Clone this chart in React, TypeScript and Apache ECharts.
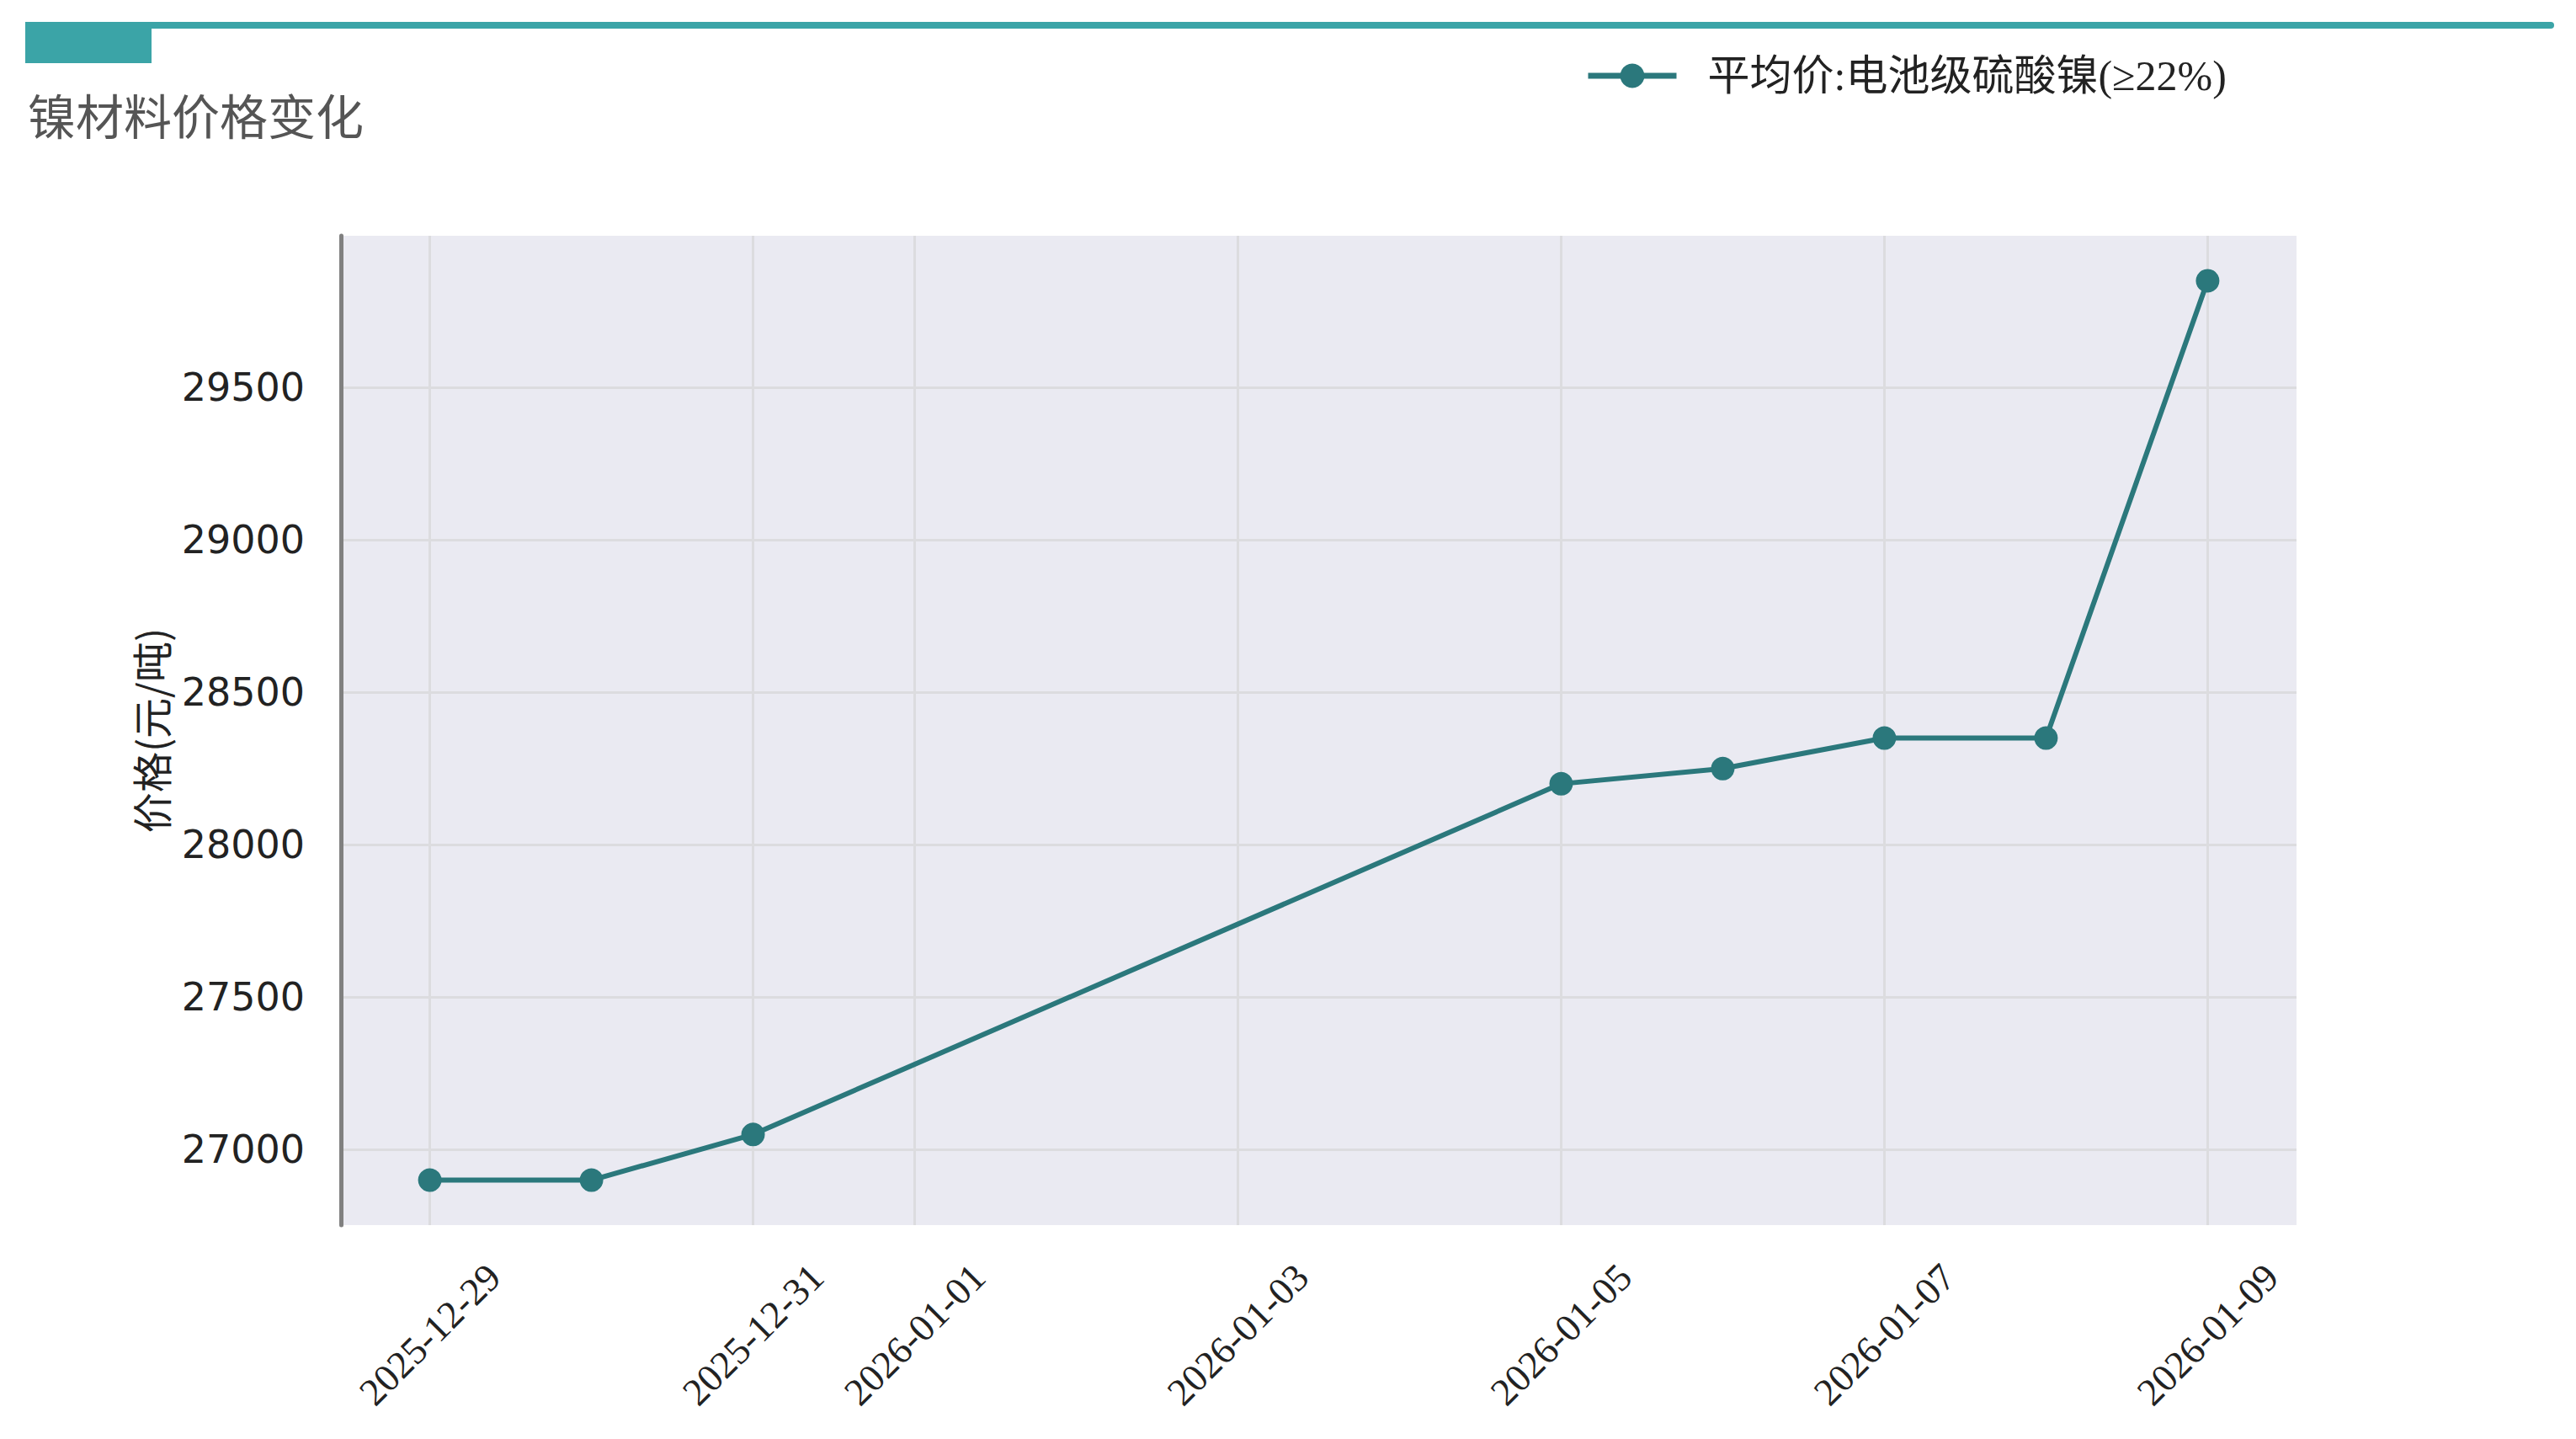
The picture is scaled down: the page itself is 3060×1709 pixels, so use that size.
import { useEffect, useRef } from "react";
import * as echarts from "echarts";

const dates = ["2025-12-29", "2025-12-30", "2025-12-31", "2026-01-05", "2026-01-06", "2026-01-07", "2026-01-08", "2026-01-09"];
const prices = [26900, 26900, 27050, 28200, 28250, 28350, 28350, 29850];
const xTickDates = ["2025-12-29", "2025-12-31", "2026-01-01", "2026-01-03", "2026-01-05", "2026-01-07", "2026-01-09"];
const yTicks = [27000, 27500, 28000, 28500, 29000, 29500];
const seriesName = "平均价:电池级硫酸镍(≥22%)";
const titleText = "镍材料价格变化";
const yName = "价格(元/吨)";

const LINE_COLOR = "#2B787C";
const HEADER_COLOR = "#3BA4A7";

function ts(s: string): number {
  const [y, m, d] = s.split("-").map(Number);
  return new Date(y, m - 1, d).getTime();
}
function fmt(v: number): string {
  const d = new Date(v);
  const p = (n: number) => (n < 10 ? "0" + n : "" + n);
  return d.getFullYear() + "-" + p(d.getMonth() + 1) + "-" + p(d.getDate());
}

export default function App() {
  const ref = useRef<HTMLDivElement>(null);
  useEffect(() => {
    if (!ref.current) return;
    const chart = echarts.init(ref.current, null, { renderer: "svg" });
    const lo = Math.min(...prices);
    const hi = Math.max(...prices);
    const pad = (hi - lo) * 0.05;
    const xs = dates.map(ts);
    const xPad = (xs[xs.length - 1] - xs[0]) * 0.05;
    const xMin = xs[0] - xPad;
    const xMax = xs[xs.length - 1] + xPad;
    const xTicks = xTickDates.map(ts);
    chart.setOption({
      animation: false,
      backgroundColor: "#ffffff",
      graphic: [
        {
          type: "rect",
          shape: { x: 30, y: 26, width: 3004, height: 8, r: 4 },
          style: { fill: HEADER_COLOR },
        },
        {
          type: "rect",
          shape: { x: 30, y: 26, width: 150, height: 49 },
          style: { fill: HEADER_COLOR },
        },
        {
          type: "text",
          left: 33,
          top: 106,
          style: {
            text: titleText,
            fontSize: 57,
            fontFamily: "Noto Sans CJK SC",
            fill: "#555555",
          },
        },
      ],
      legend: {
        left: 1878,
        top: 60,
        itemWidth: 105,
        itemHeight: 36,
        lineStyle: { width: 7 },
        textStyle: {
          fontSize: 50,
          fontFamily: "Liberation Serif, Noto Sans CJK SC",
          color: "#222222",
          padding: [0, 0, 0, 32],
        },
        data: [seriesName],
      },
      grid: { left: 405, right: 332, top: 280, bottom: 254, containLabel: false, show: true, backgroundColor: "#EAEAF2", borderWidth: 0 },
      xAxis: {
        type: "value",
        min: xMin,
        max: xMax,
        axisLine: { show: false },
        axisTick: { show: true, length: 0, customValues: xTicks, lineStyle: { color: "transparent" } },
        axisLabel: {
          customValues: xTicks,
          formatter: (v: number) => fmt(v),
          rotate: 45,
          align: "center",
          verticalAlign: "middle",
          margin: 130,
          fontSize: 46,
          fontFamily: "Liberation Serif",
          color: "#222222",
          hideOverlap: false,
        },
        splitLine: { show: true, lineStyle: { color: "#DCDCDF", width: 3 } },
      },
      yAxis: {
        type: "value",
        min: lo - pad,
        max: hi + pad,
        name: yName,
        nameLocation: "middle",
        nameGap: 203,
        nameTextStyle: { fontSize: 48, fontFamily: "Noto Sans CJK SC", color: "#222222" },
        axisLine: { show: true, onZero: false, lineStyle: { color: "#808080", width: 5 } },
        axisTick: { show: true, length: 0, customValues: yTicks, lineStyle: { color: "transparent" } },
        axisLabel: {
          customValues: yTicks,
          formatter: (v: number) => String(v),
          margin: 43,
          fontSize: 46,
          fontFamily: "DejaVu Sans",
          color: "#222222",
        },
        splitLine: { show: true, lineStyle: { color: "#DCDCDF", width: 3 } },
      },
      series: [
        {
          name: seriesName,
          type: "line",
          data: xs.map((x, i) => [x, prices[i]]),
          symbol: "circle",
          symbolSize: 28,
          itemStyle: { color: LINE_COLOR },
          lineStyle: { color: LINE_COLOR, width: 6 },
        },
      ],
    });
    return () => chart.dispose();
  }, []);
  return <div ref={ref} style={{ position: "fixed", left: 0, top: 0, width: 3060, height: 1709 }} />;
}
